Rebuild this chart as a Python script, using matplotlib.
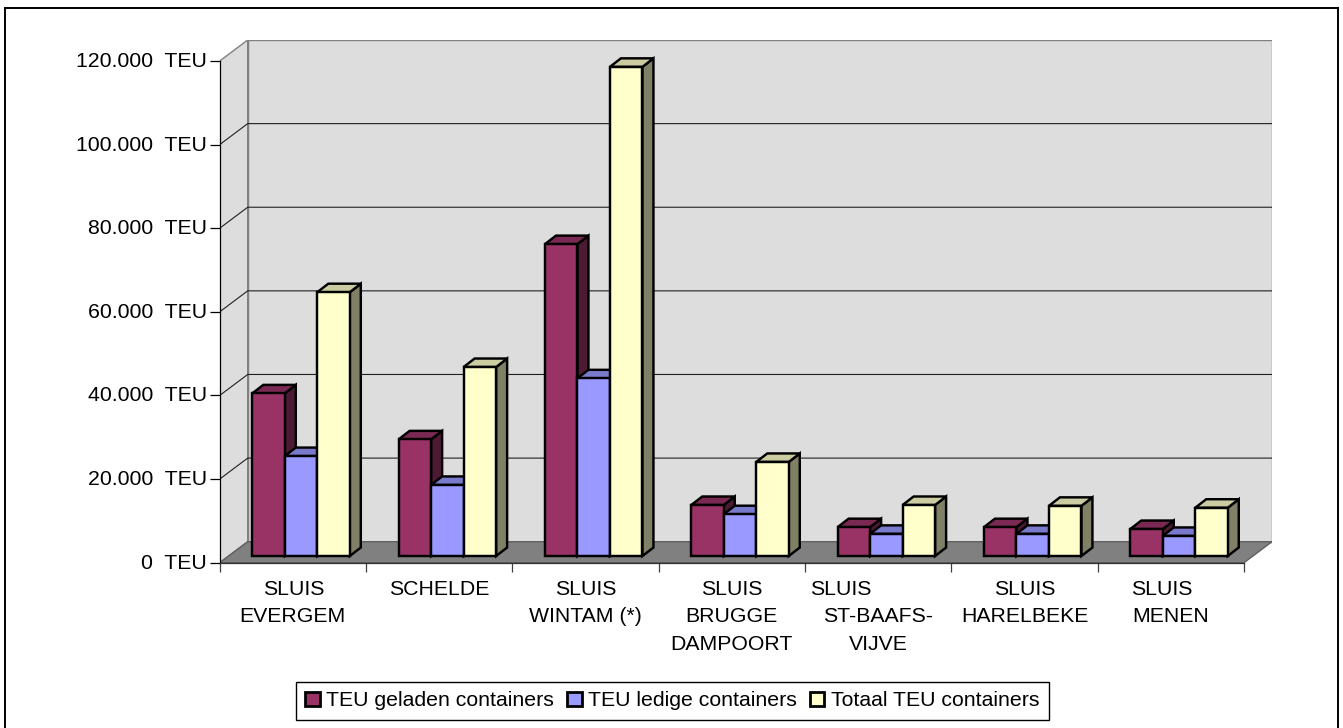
import matplotlib
matplotlib.use("Agg")
import matplotlib.pyplot as plt
from matplotlib.patches import Patch, Polygon
from matplotlib.transforms import ScaledTranslation

plt.rcParams["font.family"] = ["Liberation Sans", "DejaVu Sans"]

# data
categories = [["SLUIS", "EVERGEM"], ["SCHELDE"], ["SLUIS", "WINTAM (*)"],
              ["SLUIS", "BRUGGE", "DAMPOORT"], ["SLUIS", "ST-BAAFS-", "VIJVE"],
              ["SLUIS", "HARELBEKE"], ["SLUIS", "MENEN"]]
geladen = [38900, 27900, 74600, 12200, 6900, 6900, 6450]
ledig = [23900, 17000, 42500, 10000, 5300, 5300, 4800]
totaal = [63100, 45200, 117000, 22500, 12200, 12000, 11550]
series_names = ["TEU geladen containers", "TEU ledige containers", "Totaal TEU containers"]
y_ticks = [0, 20000, 40000, 60000, 80000, 100000, 120000]
y_labels = ["0  TEU", "20.000  TEU", "40.000  TEU", "60.000  TEU",
            "80.000  TEU", "100.000  TEU", "120.000  TEU"]

# front, top, side colours per series
front_colors = ["#993366", "#9999FF", "#FFFFCC"]
top_colors = ["#7A2952", "#7A7ACC", "#CCCCA3"]
side_colors = ["#4D1A33", "#4D4D80", "#808066"]

W, H = 1343, 728
FS = 15.3
BAR_LW = 1.75

# layout of the pseudo 3D box, in pixels
x0_px, y0_px = 219.7, 562.7
cat_px = 1024.3 / 7
teu_px = 502 / 120000
wall_dx, wall_dy = 28 / cat_px, 21 / teu_px
bar_w = 32.5 / cat_px
bar_gap = 32.6 / cat_px
bar_dx, bar_dy = 11 / cat_px, 8.5 / teu_px
base = 6.7 / teu_px

fig = plt.figure(figsize=(W / 100, H / 100), dpi=100)
ax = fig.add_axes([x0_px / W, (H - y0_px) / H, 1052.3 / W, 522.7 / H])
ax.set_xlim(0, 7 + wall_dx)
ax.set_ylim(0, 120000 + wall_dy)
ax.patch.set_visible(False)

# outer frame, it runs off the bottom of the image
for xs, ys in [([5, 5], [H, 8]), ([5, 1338], [8, 8]), ([1338, 1338], [8, H])]:
    fig.add_artist(plt.Line2D([x / W for x in xs], [1 - y / H for y in ys],
                              color="black", lw=1.4))

# walls and floor
wall_c = "#DDDDDD"
edge_c = "#808080"
ax.add_patch(Polygon([(0, 0), (wall_dx, wall_dy), (wall_dx, 120000 + wall_dy), (0, 120000)],
                     fc=wall_c, ec=edge_c, lw=1, zorder=1))
ax.add_patch(Polygon([(wall_dx, wall_dy), (7 + wall_dx, wall_dy),
                      (7 + wall_dx, 120000 + wall_dy), (wall_dx, 120000 + wall_dy)],
                     fc=wall_c, ec=edge_c, lw=1, zorder=1))
ax.add_patch(Polygon([(0, 0), (7, 0), (7 + wall_dx, wall_dy), (wall_dx, wall_dy)],
                     fc=edge_c, ec="#606060", lw=1, zorder=1))

for v in y_ticks[1:-1]:
    ax.plot([0, wall_dx, 7 + wall_dx], [v, v + wall_dy, v + wall_dy],
            color="#202020", lw=0.8, zorder=2)

# bars, one series after the other so the next front hides the previous side
z = 3
for i in range(len(categories)):
    for j, vals in enumerate([geladen, ledig, totaal]):
        left = i + bar_gap + j * bar_w
        right = left + bar_w
        top = base + vals[i]
        ax.bar(left, vals[i], bar_w, bottom=base, align="edge", color=front_colors[j],
               edgecolor="black", lw=BAR_LW, zorder=z + 2)
        ax.add_patch(Polygon([(right, base), (right + bar_dx, base + bar_dy),
                              (right + bar_dx, top + bar_dy), (right, top)],
                             fc=side_colors[j], ec="black", lw=BAR_LW, zorder=z))
        ax.add_patch(Polygon([(left, top), (left + bar_dx, top + bar_dy),
                              (right + bar_dx, top + bar_dy), (right, top)],
                             fc=top_colors[j], ec="black", lw=BAR_LW, zorder=z + 1))
        z += 3

# axes
for name in ["top", "right"]:
    ax.spines[name].set_visible(False)
ax.spines["left"].set_bounds(0, 120000)
ax.spines["bottom"].set_bounds(0, 7)
ax.spines["left"].set_linewidth(0.9)
ax.spines["bottom"].set_linewidth(0.9)
ax.spines["bottom"].set_color("#303030")
ax.set_yticks(y_ticks)
ax.set_yticklabels(y_labels, fontsize=FS)
ax.set_xticks(range(8))
ax.set_xticklabels([])
ax.tick_params(axis="y", length=7, width=0.9, pad=2)
ax.tick_params(axis="x", length=6.5, width=0.9, color="#404040")
up = ScaledTranslation(0, 1.5 / 100, fig.dpi_scale_trans)
for lab in ax.get_yticklabels():
    lab.set_transform(lab.get_transform() + up)

# category labels, a few lines sit off centre in the original
line_shift = {(4, 0): -37, (6, 0): -9, (0, 0): 1}
for i, lines in enumerate(categories):
    for k, line in enumerate(lines):
        ax.annotate(line, xy=(i + 0.5, 0), xycoords="data",
                    xytext=(line_shift.get((i, k), 0), -26.5 - 27.5 * k),
                    textcoords="offset pixels", ha="center", va="center", fontsize=FS)

handles = [Patch(fc=c, ec="black", lw=2) for c in front_colors]
leg = ax.legend(handles, series_names, ncol=3, loc="center",
                bbox_to_anchor=(672.5 / W, 1 - 701 / H), bbox_transform=fig.transFigure,
                fontsize=FS, frameon=True, fancybox=False, framealpha=1, edgecolor="black",
                handlelength=0.68, handleheight=0.68, handletextpad=0.32, columnspacing=0.6,
                borderpad=0.43, borderaxespad=0)
leg.get_frame().set_linewidth(1)

fig.savefig("out.png", dpi=100)
